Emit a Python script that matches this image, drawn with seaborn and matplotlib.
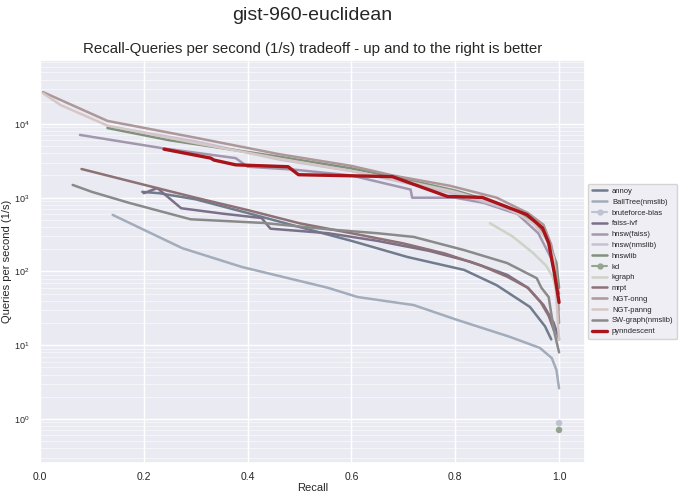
import numpy as np
import pandas as pd
import matplotlib
matplotlib.use("Agg")
import matplotlib.pyplot as plt
from matplotlib.lines import Line2D
from matplotlib.ticker import LogLocator, NullFormatter
import seaborn as sns

sns.set_theme(style="darkgrid")
plt.rcParams['font.family'] = ['Liberation Sans', 'DejaVu Sans']
plt.rcParams['mathtext.fontset'] = 'custom'
plt.rcParams['mathtext.rm'] = 'Liberation Sans'
plt.rcParams['mathtext.it'] = 'Liberation Sans:italic'

# recall / queries-per-second
annoy_recall = [0.197, 0.23, 0.30, 0.40, 0.50, 0.60, 0.708, 0.817, 0.88, 0.944, 0.973, 0.985]
annoy_qps = [1200, 1150, 950, 620, 400, 260, 157, 105, 65, 33, 18, 12]

balltree_recall = [0.14, 0.274, 0.389, 0.555, 0.612, 0.72, 0.804, 0.905, 0.963, 0.986, 0.995, 1.0]
balltree_qps = [585, 207, 115, 60, 45, 35, 22, 13, 9.2, 6.7, 4.6, 2.6]

bruteforce_recall = [1.0]
bruteforce_qps = [0.88]

faissivf_recall = [0.2, 0.226, 0.272, 0.35, 0.427, 0.444, 0.555, 0.65, 0.75, 0.83, 0.9, 0.94, 0.97, 0.99, 1.0]
faissivf_qps = [1150, 1350, 720, 610, 530, 380, 330, 260, 190, 135, 90, 60, 35, 20, 12]

hnswfaiss_recall = [0.077, 0.235, 0.377, 0.40, 0.49, 0.60, 0.714, 0.717, 0.80, 0.855, 0.92, 0.96, 0.985, 1.0]
hnswfaiss_qps = [7100, 4700, 3440, 2630, 2400, 2000, 1290, 1000, 1000, 850, 600, 330, 150, 50]

hnswnmslib_recall = [0.13, 0.30, 0.46, 0.60, 0.72, 0.82, 0.90, 0.95, 0.975, 0.99, 1.0]
hnswnmslib_qps = [9300, 5800, 3300, 2300, 1500, 1050, 700, 480, 300, 160, 30]

hnswlib_recall = [0.13, 0.25, 0.46, 0.60, 0.70, 0.80, 0.88, 0.93, 0.96, 0.98, 0.995, 1.0]
hnswlib_qps = [8800, 6000, 3600, 2500, 1800, 1250, 850, 600, 400, 250, 130, 60]

kd_recall = [1.0]
kd_qps = [0.71]

kgraph_recall = [0.867, 0.91, 0.95, 0.975, 0.988, 1.0]
kgraph_qps = [450, 300, 178, 120, 84, 40]

mrpt_recall = [0.08, 0.2, 0.3, 0.4, 0.5, 0.6, 0.7, 0.78, 0.85, 0.9, 0.94, 0.965, 0.98, 0.99]
mrpt_qps = [2450, 1500, 1000, 680, 450, 330, 240, 175, 120, 85, 60, 38, 25, 16]

ngtonng_recall = [0.006, 0.13, 0.30, 0.46, 0.60, 0.68, 0.79, 0.88, 0.94, 0.97, 0.985, 0.995, 1.0]
ngtonng_qps = [27000, 11000, 6500, 3900, 2700, 2000, 1450, 1000, 620, 430, 230, 100, 20]

ngtpanng_recall = [0.006, 0.04, 0.13, 0.30, 0.46, 0.60, 0.70, 0.80, 0.90, 0.95, 0.975, 0.99, 1.0]
ngtpanng_qps = [26000, 18000, 9500, 5500, 3400, 2300, 1700, 1200, 750, 450, 280, 150, 12]

swgraph_recall = [0.063, 0.10, 0.172, 0.29, 0.43, 0.56, 0.65, 0.72, 0.817, 0.90, 0.957, 0.966, 0.98, 0.99, 1.0]
swgraph_qps = [1490, 1200, 850, 510, 455, 370, 330, 294, 195, 130, 81, 60, 45, 16, 8]

pynn_recall = [0.239, 0.329, 0.335, 0.377, 0.478, 0.498, 0.679, 0.785, 0.852, 0.938, 0.968, 0.98, 0.991, 1.0]
pynn_qps = [4550, 3440, 3240, 2790, 2630, 2050, 1930, 1040, 1010, 590, 390, 243, 95, 38]

algos = ["annoy", "BallTree(nmslib)", "bruteforce-blas", "faiss-ivf", "hnsw(faiss)",
         "hnsw(nmslib)", "hnswlib", "kd", "kgraph", "mrpt", "NGT-onng", "NGT-panng",
         "SW-graph(nmslib)", "pynndescent"]
colors = ["#707b8e", "#a3acba", "#bfc2d0", "#7b6f8a", "#a397b0",
          "#c9bfd3", "#7f927c", "#93a58e", "#cdd3c6", "#8d7175", "#ad9799", "#d5c7c7",
          "#8a8a8a", "#a8141a"]

series = {
    "annoy": (annoy_recall, annoy_qps),
    "BallTree(nmslib)": (balltree_recall, balltree_qps),
    "bruteforce-blas": (bruteforce_recall, bruteforce_qps),
    "faiss-ivf": (faissivf_recall, faissivf_qps),
    "hnsw(faiss)": (hnswfaiss_recall, hnswfaiss_qps),
    "hnsw(nmslib)": (hnswnmslib_recall, hnswnmslib_qps),
    "hnswlib": (hnswlib_recall, hnswlib_qps),
    "kd": (kd_recall, kd_qps),
    "kgraph": (kgraph_recall, kgraph_qps),
    "mrpt": (mrpt_recall, mrpt_qps),
    "NGT-onng": (ngtonng_recall, ngtonng_qps),
    "NGT-panng": (ngtpanng_recall, ngtpanng_qps),
    "SW-graph(nmslib)": (swgraph_recall, swgraph_qps),
    "pynndescent": (pynn_recall, pynn_qps),
}
points_only = ["bruteforce-blas", "kd"]

rows = []
for name, (r, q) in series.items():
    for a, b in zip(r, q):
        rows.append({"algo": name, "recall": a, "qps": b})
df = pd.DataFrame(rows)
palette = dict(zip(algos, colors))

fig = plt.figure(figsize=(6.8, 4.98), dpi=100)
ax = fig.add_axes([0.0588, 0.0703, 0.8015, 0.8092])

# draw each algorithm's curve, pynndescent last so it sits on top
for name in algos:
    if name in points_only:
        continue
    sub = df[df["algo"] == name]
    sns.lineplot(data=sub, x="recall", y="qps", sort=False, estimator=None,
                 color=palette[name], linewidth=2.4 if name == "pynndescent" else 1.8,
                 ax=ax, legend=False)

sns.scatterplot(data=df[df["algo"].isin(points_only)], x="recall", y="qps",
                hue="algo", palette=palette, s=22, edgecolor="none", ax=ax, legend=False)

ax.set_yscale("log")
ax.set_xlim(0, 1.05)
ax.set_ylim(0.253, 73600)
ax.yaxis.set_minor_locator(LogLocator(base=10, subs=np.arange(2, 10), numticks=20))
ax.yaxis.set_minor_formatter(NullFormatter())
ax.grid(which="major", color="white", linewidth=1.0)
ax.grid(which="minor", axis="y", color="white", linewidth=0.4)
ax.tick_params(axis="x", which="major", labelsize=7.5, pad=0.5)
ax.tick_params(axis="y", which="major", labelsize=6.5, pad=1.5)

ax.set_xlabel("Recall", fontsize=8, labelpad=1)
ax.set_ylabel("Queries per second (1/s)", fontsize=8)
ax.yaxis.set_label_coords(-0.052, 0.5)
ax.set_title("Recall-Queries per second (1/s) tradeoff - up and to the right is better",
             fontsize=10.8, pad=5)
fig.text(0.459, 0.968, "gist-960-euclidean", fontsize=14, ha="center", va="center")

handles = []
for name, c in zip(algos, colors):
    if name in points_only:
        handles.append(Line2D([0], [0], color=c, linewidth=1.5, marker="o", markersize=3.5))
    else:
        handles.append(Line2D([0], [0], color=c, linewidth=2.4 if name == "pynndescent" else 1.8))
ax.legend(handles, algos, loc="center left", bbox_to_anchor=(1.006, 0.5), borderaxespad=0,
          fontsize=5.5, frameon=True, handlelength=2.0, handletextpad=0.6,
          labelspacing=0.45, borderpad=0.5)

fig.savefig("out.png", dpi=100)
